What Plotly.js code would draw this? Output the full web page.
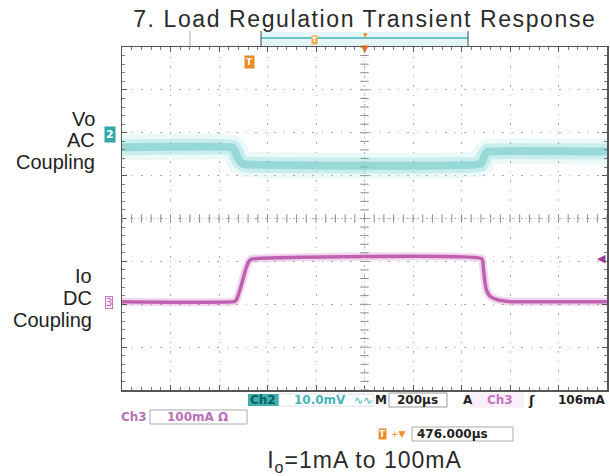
<!DOCTYPE html>
<html><head><meta charset="utf-8">
<script src="https://cdn.plot.ly/plotly-3.0.1.min.js"></script>
<style>
html,body{margin:0;padding:0;background:#fff}
.gtitle{letter-spacing:1.6px}
.g-xtitle text{letter-spacing:1px}
</style>
</head><body><div id="chart" style="width:610px;height:476px"></div>
<script>
// ---- data ----
// time in microseconds relative to screen centre, 200 us/div
const voTime = [-1000, -548, -538, -528, -518, -508, -498, 478, 486, 494, 502, 510, 1000];
// Vo (AC coupled) in mV relative to channel-2 marker, 10 mV/div
const voMv   = [-3.0, -3.0, -3.5, -4.7, -5.9, -6.6, -6.9, -6.9, -6.2, -5.1, -4.3, -4.0, -4.0];
// Io (DC coupled) in mA, 100 mA/div
const ioTime = [-1000, -538, -530, -522, -512, -500, -488, -478, -470, -460, 484, 490, 496, 502, 512, 525, 545, 570, 610, 1000];
const ioMa   = [1, 1, 4, 14, 32, 56, 80, 94, 99, 101, 101, 80, 50, 30, 18, 11, 6, 3, 1, 1];

const titleText = '7. Load Regulation Transient Response';
const captionText = 'I<sub>o</sub>=1mA to 100mA';
const voLabel = ['Vo', 'AC', 'Coupling'];
const ioLabel = ['Io', 'DC', 'Coupling'];

// ---- scope settings ----
const voScale = 10, voOffsetDiv = 1.96;   // mV/div, marker position in div
const ioScale = 100, ioOffsetDiv = -1.95; // mA/div
const TEAL = '#3db5b0', MAG = '#c060b0', ORANGE = '#f08a24';

// layout pixel helpers
const L = 122, T = 47, W = 485, H = 343;
const px = x => (x - L) / W;
const py = y => (T + H - y) / H;

const traces = [
  {x: voTime, y: voMv, yaxis: 'y2', mode: 'lines', line: {color: 'rgba(130,215,212,0.16)', width: 26, shape: 'spline', smoothing: 0.4}, hoverinfo: 'skip'},
  {x: voTime, y: voMv, yaxis: 'y2', mode: 'lines', line: {color: 'rgba(105,205,200,0.26)', width: 16, shape: 'spline', smoothing: 0.4}, hoverinfo: 'skip'},
  {x: voTime, y: voMv, yaxis: 'y2', mode: 'lines', line: {color: 'rgba(80,190,186,0.42)', width: 8, shape: 'spline', smoothing: 0.4}, hoverinfo: 'skip'},
  {x: ioTime, y: ioMa, yaxis: 'y3', mode: 'lines', line: {color: 'rgba(205,120,195,0.3)', width: 8, shape: 'spline', smoothing: 0.4}, hoverinfo: 'skip'},
  {x: ioTime, y: ioMa, yaxis: 'y3', mode: 'lines', line: {color: MAG, width: 3.5, shape: 'spline', smoothing: 0.4}, hoverinfo: 'skip'}
];

// centre crosshair tick marks (graticule decoration)
const hx = [], hy = [], vx = [], vy = [];
for (let i = -25; i <= 25; i++) { hx.push(i * 40); hy.push(0); }
for (let i = -20; i <= 20; i++) { vx.push(0); vy.push(i * 0.2); }
traces.unshift(
  {x: hx, y: hy, mode: 'markers', marker: {symbol: 'line-ns', size: 6, line: {color: '#888', width: 1}}, hoverinfo: 'skip'},
  {x: vx, y: vy, mode: 'markers', marker: {symbol: 'line-ew', size: 6, line: {color: '#888', width: 1}}, hoverinfo: 'skip'}
);

const scopeFont = {family: 'DejaVu Sans', size: 12, color: '#222'};
function ann(text, x, y, opts) {
  return Object.assign({text: text, xref: 'paper', yref: 'paper', x: px(x), y: py(y),
    showarrow: false, xanchor: 'left', yanchor: 'middle', font: Object.assign({}, scopeFont)}, opts || {});
}
function box(x0, x1, y0, y1, fill, line) {
  return {type: 'rect', xref: 'paper', yref: 'paper', x0: px(x0), x1: px(x1), y0: py(y0), y1: py(y1),
    fillcolor: fill || 'rgba(0,0,0,0)', line: {color: line || 'rgba(0,0,0,0)', width: 1}, layer: 'above'};
}
function seg(x0, y0, x1, y1, color, width) {
  return {type: 'line', xref: 'paper', yref: 'paper', x0: px(x0), x1: px(x1), y0: py(y0), y1: py(y1),
    line: {color: color, width: width || 1}};
}

const annotations = [];
voLabel.forEach((t, i) => annotations.push(ann(t, 97, [119, 140, 162][i], {xanchor: 'right', font: {family: 'Liberation Sans', size: 20, color: '#222'}})));
ioLabel.forEach((t, i) => annotations.push(ann(t, 94, [276, 298, 320][i], {xanchor: 'right', font: {family: 'Liberation Sans', size: 20, color: '#222'}})));

// channel markers
annotations.push(ann('<b>2</b>', 110, 134, {xanchor: 'center', bgcolor: '#2fa8a8', borderpad: 1, font: {family: 'DejaVu Sans', size: 11, color: '#fff'}}));
annotations.push(ann('3', 109, 302, {xanchor: 'center', bgcolor: '#fdf0fa', bordercolor: '#c878c0', borderwidth: 1, borderpad: 0, font: {family: 'DejaVu Sans', size: 10, color: MAG}}));
annotations.push(ann('◀', 601, 258, {xanchor: 'center', font: {family: 'DejaVu Sans', size: 11, color: '#9a3a96'}}));
annotations.push(ann('<b>T</b>', 249, 62, {xanchor: 'center', bgcolor: ORANGE, borderpad: 1, font: {family: 'DejaVu Sans', size: 9, color: '#fff'}}));
annotations.push(ann('<b>T</b>', 314, 40, {xanchor: 'center', bgcolor: '#f4a850', borderpad: 0, font: {family: 'DejaVu Sans', size: 7, color: '#fff'}}));
annotations.push(ann('▼', 365, 34, {xanchor: 'center', font: {family: 'DejaVu Sans', size: 6, color: ORANGE}}));
annotations.push(ann('▼', 365, 49, {xanchor: 'center', font: {family: 'DejaVu Sans', size: 10, color: '#e07020'}}));

// bottom readouts
const rowA = 400, rowB = 417, rowC = 434;
annotations.push(ann('<b>Ch2</b>', 263, rowA, {xanchor: 'center', font: {family: 'DejaVu Sans', size: 12, color: '#0d5f5f'}}));
annotations.push(ann('<b>10.0mV</b>', 292, rowA, {font: {family: 'DejaVu Sans', size: 12, color: '#45b5b5'}}));
annotations.push(ann('∿∿', 352, rowA, {font: {family: 'DejaVu Sans', size: 11, color: '#45b5b5'}}));
annotations.push(ann('<b>M</b>', 373, rowA, {font: {family: 'DejaVu Sans', size: 12, color: '#222'}}));
annotations.push(ann('<b>200µs</b>', 395, rowA, {font: {family: 'DejaVu Sans', size: 12, color: '#222'}}));
annotations.push(ann('<b>A</b>', 461, rowA, {font: {family: 'DejaVu Sans', size: 12, color: '#222'}}));
annotations.push(ann('<b>Ch3</b>', 485, rowA, {font: {family: 'DejaVu Sans', size: 12, color: '#c078c0'}}));
annotations.push(ann('<b>ʃ</b>', 526, rowA, {font: {family: 'DejaVu Sans', size: 13, color: '#222'}}));
annotations.push(ann('<b>106mA</b>', 608, rowA, {xanchor: 'right', font: {family: 'DejaVu Sans', size: 12, color: '#222'}}));
annotations.push(ann('<b>Ch3</b>', 119, rowB, {font: {family: 'DejaVu Sans', size: 12, color: '#b870b8'}}));
annotations.push(ann('<b>100mA Ω</b>', 165, rowB, {font: {family: 'DejaVu Sans', size: 12, color: '#b870b8'}}));
annotations.push(ann('<b>T</b>', 382, rowC, {xanchor: 'center', bgcolor: ORANGE, borderpad: 0, font: {family: 'DejaVu Sans', size: 9, color: '#fff'}}));
annotations.push(ann('+▼', 389, rowC, {font: {family: 'DejaVu Sans', size: 9, color: ORANGE}}));
annotations.push(ann('<b>476.000µs</b>', 415, rowC, {font: {family: 'DejaVu Sans', size: 12, color: '#222'}}));

const shapes = [
  // top record bar
  box(261, 468, 32, 46, '#e4f5f5'),
  seg(261, 38, 468, 38, TEAL, 1.5),
  seg(261, 31, 261, 46, '#444', 1),
  seg(468, 31, 468, 46, '#444', 1),
  seg(190, 31, 190, 46, '#aaa', 1),
  // readout boxes
  box(248, 279, 394, 406, '#3fb0b0'),
  box(279, 373, 394, 406, null, '#dde'),
  box(389, 447, 393, 407, null, '#999'),
  box(471, 523, 393, 407, '#fbeefb', '#eee'),
  box(150, 247, 410, 424, null, '#aaa'),
  box(412, 513, 427, 441, null, '#aaa'),
  // centre crosshair lines
  {type: 'line', xref: 'x', yref: 'paper', x0: 0, x1: 0, y0: 0, y1: 1, line: {color: '#bbb', width: 1, dash: '1px,3px'}},
  {type: 'line', xref: 'paper', yref: 'y', x0: 0, x1: 1, y0: 0, y1: 0, line: {color: '#bbb', width: 1, dash: '1px,3px'}}
];

const layout = {
  width: 610, height: 476,
  margin: {l: L, r: 610 - L - W, t: T, b: 476 - T - H},
  paper_bgcolor: '#fff', plot_bgcolor: '#fff',
  showlegend: false, hovermode: false,
  title: {text: titleText, x: 0.598, xref: 'container', xanchor: 'center', y: 1 - 19 / 476, yref: 'container', yanchor: 'middle',
    font: {family: 'Liberation Sans', size: 23, color: '#2a2a2a'}},
  xaxis: {range: [-1000, 1000], dtick: 200, showticklabels: false, zeroline: false,
    showgrid: true, gridcolor: '#a8a8a8', gridwidth: 1, griddash: '1.5px,8px',
    showline: true, linecolor: '#555', linewidth: 1.5, mirror: 'ticks',
    ticks: 'inside', ticklen: 5, tickcolor: '#555',
    minor: {dtick: 40, ticks: 'inside', ticklen: 3, tickcolor: '#777', showgrid: false},
    title: {text: captionText, standoff: 64, font: {family: 'Liberation Sans', size: 23, color: '#2a2a2a'}}},
  yaxis: {range: [-4, 4], dtick: 1, showticklabels: false, zeroline: false,
    showgrid: true, gridcolor: '#a8a8a8', gridwidth: 1, griddash: '1.5px,8px',
    showline: true, linecolor: '#555', linewidth: 1.5, mirror: 'ticks',
    ticks: 'inside', ticklen: 5, tickcolor: '#555',
    minor: {dtick: 0.2, ticks: 'inside', ticklen: 3, tickcolor: '#777', showgrid: false}},
  yaxis2: {overlaying: 'y', visible: false,
    range: [(-4 - voOffsetDiv) * voScale, (4 - voOffsetDiv) * voScale]},
  yaxis3: {overlaying: 'y', visible: false,
    range: [(-4 - ioOffsetDiv) * ioScale, (4 - ioOffsetDiv) * ioScale]},
  annotations: annotations,
  shapes: shapes
};

Plotly.newPlot('chart', traces, layout, {displayModeBar: false, staticPlot: true});
</script>
</body></html>
